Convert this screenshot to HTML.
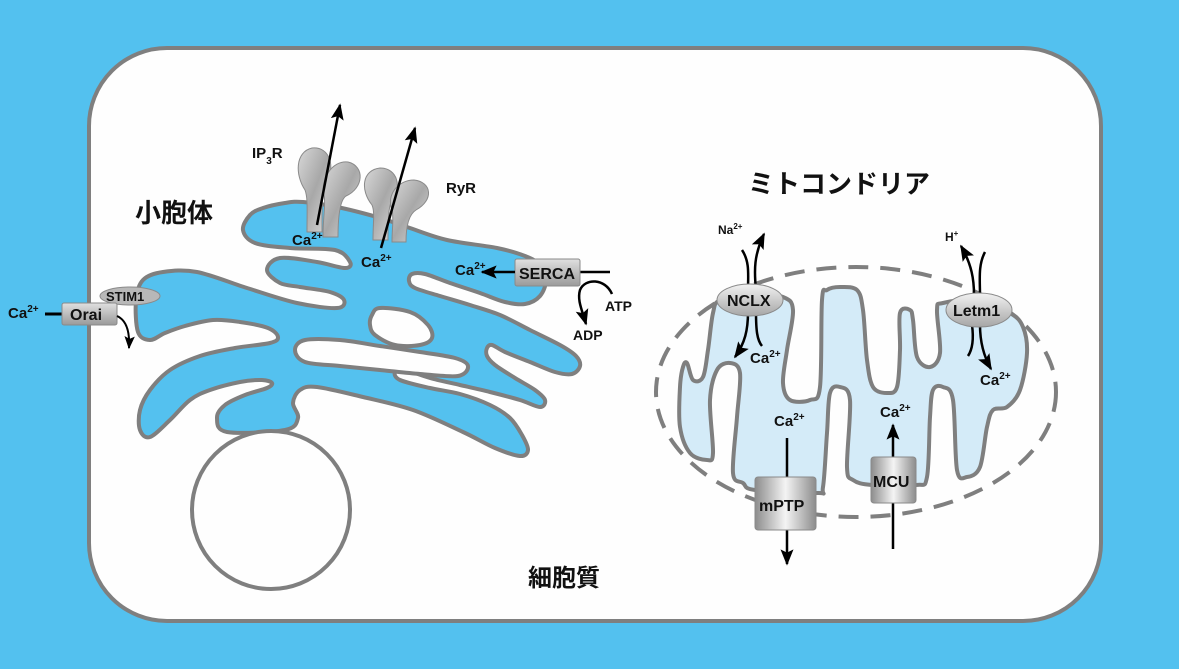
<!DOCTYPE html>
<html><head><meta charset="utf-8"><style>
html,body{margin:0;padding:0;background:#53C1EF;}
svg{display:block}
text{font-family:"Liberation Sans","Noto Sans CJK JP",sans-serif;font-weight:bold;fill:#111}
</style></head><body>
<svg width="1179" height="669" viewBox="0 0 1179 669" xmlns="http://www.w3.org/2000/svg">
<defs>
<marker id="ah" viewBox="0 0 10 10" refX="9" refY="5" markerWidth="6.5" markerHeight="6.5" orient="auto-start-reverse" markerUnits="strokeWidth">
<path d="M0,1 L10,5 L0,9 L2,5 Z" fill="#000"/></marker>
<linearGradient id="box" x1="0" x2="1" y1="0" y2="0">
<stop offset="0" stop-color="#8c8c8c"/><stop offset="0.5" stop-color="#f4f4f4"/><stop offset="1" stop-color="#8c8c8c"/></linearGradient>
<linearGradient id="boxv" x1="0" x2="0" y1="0" y2="1">
<stop offset="0" stop-color="#e0e0e0"/><stop offset="1" stop-color="#9a9a9a"/></linearGradient>
<linearGradient id="ell" x1="0" x2="0" y1="0" y2="1">
<stop offset="0" stop-color="#f2f2f2"/><stop offset="1" stop-color="#a6a6a6"/></linearGradient>
<linearGradient id="ch" x1="0" x2="1" y1="0" y2="1">
<stop offset="0" stop-color="#d8d8d8"/><stop offset="0.5" stop-color="#a8a8a8"/><stop offset="1" stop-color="#dcdcdc"/></linearGradient>
</defs>
<rect x="0" y="0" width="1179" height="669" fill="#53C1EF"/>
<rect x="89" y="48" width="1012" height="573" rx="78" ry="78" fill="#fefefe" stroke="#7f7f7f" stroke-width="4"/>

<!-- ER -->
<g stroke="#7f7f7f" stroke-width="4" stroke-linejoin="round">
<polygon class="sm" fill="#54C1EF" points="243,230 250,215 263,208 285,203 303,202 337,207 377,217 407,227 447,240 497,248 525,256 540,265 546,280 540,296 525,304 505,302 480,293 450,283 425,274 412,274 409,281 415,288 440,296 470,305 500,315 530,330 560,345 576,356 580,366 572,374 555,372 530,362 505,352 492,345 487,348 487,356 495,365 515,378 535,390 545,400 540,407 520,400 490,392 460,385 430,378 405,370 395,372 400,380 430,388 460,394 490,405 510,418 522,435 528,450 520,456 495,448 463,432 413,410 363,397 317,387 300,390 293,403 298,418 285,430 227,432 217,418 225,405 245,395 267,388 272,383 262,380 240,382 210,390 190,400 170,420 150,437 140,430 140,410 150,390 170,370 200,356 235,348 270,343 278,337 268,328 240,322 213,320 185,326 165,333 150,340 138,332 136,300 143,280 163,272 197,272 247,288 297,303 337,308 344,300 330,292 300,287 280,283 267,270 280,258 317,262 345,268 350,262 335,250 290,248 255,243"/>
<polygon class="sm" fill="#fefefe" points="372,315 380,308 410,312 428,325 432,338 420,345 395,345 375,335 370,325"/>
<polygon class="sm" fill="#fefefe" points="295,350 305,340 340,340 380,346 420,352 455,358 468,366 458,376 420,374 380,370 340,366 305,362"/>
<circle cx="271" cy="510" r="79" fill="#fefefe"/>
</g>

<!-- IP3R / RyR -->
<g fill="url(#ch)" stroke="#8a8a8a" stroke-width="1">
<path d="M305,190 C295,175 295,152 312,148 C330,146 336,168 326,182 C322,190 322,205 322,232 L307,232 C307,210 308,198 305,190 Z"/>
<path d="M324,195 C320,180 332,160 348,162 C365,166 364,188 346,196 C340,200 338,215 338,237 L323,237 C323,215 326,205 324,195 Z"/>
<path d="M372,205 C360,190 362,170 380,168 C398,168 402,188 392,200 C388,208 388,222 388,240 L373,240 C373,222 375,212 372,205 Z"/>
<path d="M392,210 C386,195 398,180 414,180 C432,182 434,200 416,210 C408,215 406,228 406,242 L392,242 C392,228 394,218 392,210 Z"/>
</g>
<line x1="317" y1="225" x2="340" y2="105" stroke="#000" stroke-width="2.5" marker-end="url(#ah)"/>
<line x1="381" y1="248" x2="415" y2="128" stroke="#000" stroke-width="2.5" marker-end="url(#ah)"/>
<text x="252" y="158" font-size="15">IP<tspan font-size="10" dy="6">3</tspan><tspan dy="-6">R</tspan></text>
<text x="446" y="193" font-size="15">RyR</text>
<text x="292" y="245" font-size="15">Ca<tspan font-size="10" dy="-6">2+</tspan></text>
<text x="361" y="267" font-size="15">Ca<tspan font-size="10" dy="-6">2+</tspan></text>
<text x="135" y="222" font-size="26">小胞体</text>

<!-- STIM1/Orai -->
<ellipse cx="130" cy="296" rx="30" ry="9" fill="#b8b8b8" stroke="#8a8a8a" stroke-width="1"/>
<text x="106" y="301" font-size="13">STIM1</text>
<line x1="45" y1="314" x2="62" y2="314" stroke="#000" stroke-width="3"/>
<rect x="62" y="303" width="55" height="22" rx="2" fill="url(#boxv)" stroke="#8a8a8a" stroke-width="1"/>
<text x="70" y="320" font-size="16">Orai</text>
<text x="8" y="318" font-size="15">Ca<tspan font-size="10" dy="-6">2+</tspan></text>
<path d="M117,316 C126,320 130,330 129,348" fill="none" stroke="#000" stroke-width="2" marker-end="url(#ah)"/>

<!-- SERCA -->
<line x1="580" y1="272" x2="610" y2="272" stroke="#000" stroke-width="2.5"/>
<rect x="515" y="259" width="65" height="27" rx="2" fill="url(#boxv)" stroke="#8a8a8a" stroke-width="1"/>
<text x="519" y="279" font-size="16">SERCA</text>
<line x1="515" y1="272" x2="482" y2="272" stroke="#000" stroke-width="2.5" marker-end="url(#ah)"/>
<text x="455" y="275" font-size="15">Ca<tspan font-size="10" dy="-6">2+</tspan></text>
<path d="M612,294 C605,278 585,278 580,290 C577,300 582,310 586,324" fill="none" stroke="#000" stroke-width="2.5" marker-end="url(#ah)"/>
<text x="605" y="311" font-size="14">ATP</text>
<text x="573" y="340" font-size="14">ADP</text>

<!-- Mitochondria -->
<ellipse cx="856" cy="392" rx="200" ry="125" fill="none" stroke="#7f7f7f" stroke-width="4" stroke-dasharray="20 12"/>
<polygon class="sm" fill="#D4EBF8" stroke="#7f7f7f" stroke-width="4" stroke-linejoin="round" points="687,363 693,380 703,377 708,350 713,313 720,300 750,292 783,297 793,310 787,350 783,383 790,400 810,400 820,387 822,300 827,290 840,287 857,290 863,310 867,360 873,387 887,393 897,387 900,350 900,313 910,310 913,320 917,357 930,367 940,353 937,310 943,303 977,300 1010,313 1023,327 1027,353 1020,390 1007,407 993,410 987,427 980,467 967,477 957,470 953,400 943,387 933,390 930,417 927,477 916,485 872,485 853,480 847,467 850,400 840,387 830,393 827,433 823,487 817,493 755,490 743,483 733,473 737,417 740,373 730,363 717,370 710,400 713,453 707,460 690,453 680,427 680,387 683,367"/>
<text x="748" y="193" font-size="26">ミトコンドリア</text>

<!-- NCLX -->
<path d="M742,250 C750,262 748,275 748,290" fill="none" stroke="#000" stroke-width="2.5"/>
<path d="M756,290 C754,270 754,255 764,234" fill="none" stroke="#000" stroke-width="2.5" marker-end="url(#ah)"/>
<path d="M748,312 C748,330 745,343 735,357" fill="none" stroke="#000" stroke-width="2.5" marker-end="url(#ah)"/>
<path d="M756,312 C756,330 757,340 762,346" fill="none" stroke="#000" stroke-width="2.5"/>
<ellipse cx="750" cy="300" rx="33" ry="16" fill="url(#ell)" stroke="#8a8a8a" stroke-width="1"/>
<text x="727" y="306" font-size="16">NCLX</text>
<text x="718" y="234" font-size="12">Na<tspan font-size="8" dy="-5">2+</tspan></text>
<text x="750" y="363" font-size="15">Ca<tspan font-size="10" dy="-6">2+</tspan></text>

<!-- Letm1 -->
<path d="M985,252 C978,265 980,280 980,295" fill="none" stroke="#000" stroke-width="2.5"/>
<path d="M974,295 C974,280 972,265 961,246" fill="none" stroke="#000" stroke-width="2.5" marker-end="url(#ah)"/>
<path d="M972,325 C974,340 972,350 968,356" fill="none" stroke="#000" stroke-width="2.5"/>
<path d="M980,325 C980,340 983,355 991,369" fill="none" stroke="#000" stroke-width="2.5" marker-end="url(#ah)"/>
<ellipse cx="979" cy="310" rx="33" ry="17" fill="url(#ell)" stroke="#8a8a8a" stroke-width="1"/>
<text x="953" y="316" font-size="16">Letm1</text>
<text x="945" y="241" font-size="12">H<tspan font-size="8" dy="-5">+</tspan></text>
<text x="980" y="385" font-size="15">Ca<tspan font-size="10" dy="-6">2+</tspan></text>

<!-- mPTP -->
<line x1="787" y1="438" x2="787" y2="478" stroke="#000" stroke-width="2.5"/>
<line x1="787" y1="530" x2="787" y2="564" stroke="#000" stroke-width="2.5" marker-end="url(#ah)"/>
<rect x="755" y="477" width="61" height="53" rx="3" fill="url(#box)" stroke="#8a8a8a" stroke-width="1"/>
<text x="759" y="511" font-size="16">mPTP</text>
<text x="774" y="426" font-size="15">Ca<tspan font-size="10" dy="-6">2+</tspan></text>

<!-- MCU -->
<line x1="893" y1="549" x2="893" y2="503" stroke="#000" stroke-width="2.5"/>
<line x1="893" y1="457" x2="893" y2="425" stroke="#000" stroke-width="2.5" marker-end="url(#ah)"/>
<rect x="871" y="457" width="45" height="46" rx="3" fill="url(#box)" stroke="#8a8a8a" stroke-width="1"/>
<text x="873" y="487" font-size="16">MCU</text>
<text x="880" y="417" font-size="15">Ca<tspan font-size="10" dy="-6">2+</tspan></text>

<text x="528" y="586" font-size="24">細胞質</text>
</svg>
<script>
(function(){
var ns="http://www.w3.org/2000/svg";
var polys=document.querySelectorAll("polygon.sm");
for(var k=0;k<polys.length;k++){
 var p=polys[k];
 var a=p.getAttribute("points").trim().split(/\s+/).map(function(s){var t=s.split(",");return [+t[0],+t[1]];});
 var n=a.length,d="M"+a[0][0]+","+a[0][1];
 for(var i=0;i<n;i++){
  var p0=a[(i-1+n)%n],p1=a[i],p2=a[(i+1)%n],p3=a[(i+2)%n];
  var c1x=p1[0]+(p2[0]-p0[0])/6,c1y=p1[1]+(p2[1]-p0[1])/6;
  var c2x=p2[0]-(p3[0]-p1[0])/6,c2y=p2[1]-(p3[1]-p1[1])/6;
  d+=" C"+c1x.toFixed(1)+","+c1y.toFixed(1)+" "+c2x.toFixed(1)+","+c2y.toFixed(1)+" "+p2[0]+","+p2[1];
 }
 d+="Z";
 var path=document.createElementNS(ns,"path");
 ["fill","stroke","stroke-width","stroke-linejoin"].forEach(function(at){if(p.getAttribute(at))path.setAttribute(at,p.getAttribute(at));});
 path.setAttribute("d",d);
 p.parentNode.replaceChild(path,p);
}
})();
</script>
</body></html>
